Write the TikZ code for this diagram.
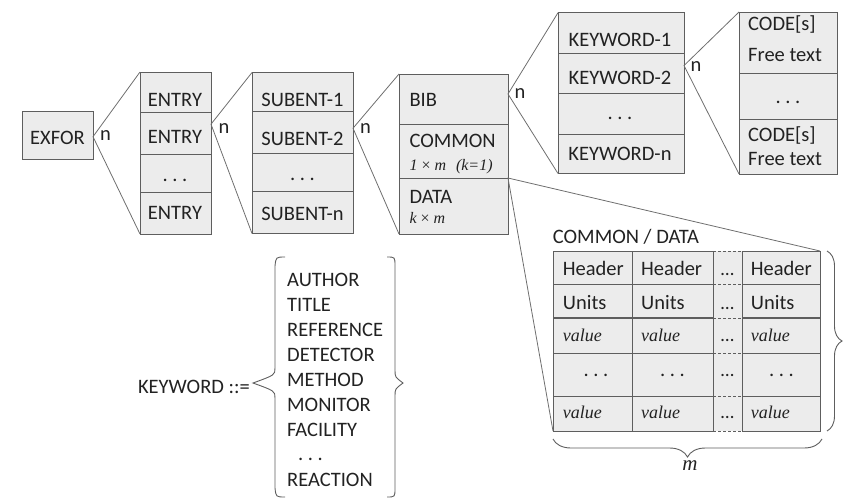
\documentclass[tikz,border=0pt]{standalone}
\usepackage{fontspec}
\setmainfont{Carlito}
\newfontfamily\seriffam{Liberation Serif}
\usetikzlibrary{calc,decorations.pathreplacing}
\definecolor{cellfill}{HTML}{ECECEC}
\definecolor{celledge}{HTML}{5E5E5E}
\definecolor{connline}{HTML}{6E6E6E}
\definecolor{inktext}{HTML}{222222}
\newcommand\mkcell[6][cellbox]{%
  \pgfmathsetmacro\mkcw{#5-#3}%
  \pgfmathsetmacro\mkch{#6-#4}%
  \node[#1, minimum width=\mkcw pt, minimum height=\mkch pt] (#2) at ({(#3+#5)/2},{(#4+#6)/2}) {};}
\newcommand\spdots{.\hspace{4.5pt}.\hspace{4.5pt}.}
\begin{document}
\begin{tikzpicture}[x=1pt,y=-1pt,
  cellbox/.style={draw=celledge, fill=cellfill, line width=0.9pt, inner sep=0pt, outer sep=0pt},
  dashcell/.style={fill=cellfill, inner sep=0pt, outer sep=0pt},
  dashline/.style={draw=celledge, line width=0.9pt, dash pattern=on 3pt off 2pt},
  txt/.style={inner sep=0pt, text=inktext, font=\fontsize{20.5}{25}\selectfont},
  itxt/.style={inner sep=0pt, text=inktext, font=\fontsize{16}{19}\selectfont\seriffam\itshape},
  vtxt/.style={inner sep=0pt, text=inktext, font=\fontsize{18}{22}\selectfont\seriffam\itshape},
  conn/.style={draw=connline, line width=0.8pt},
  brc/.style={draw=celledge, line width=0.9pt, decorate},
]
\useasboundingbox (0,0) rectangle (849,498);

% ---- EXFOR
\mkcell{exfor}{22}{111}{93}{159}
\node[txt, anchor=base] (exfort) at (57.5,144) {EXFOR};

% ---- ENTRY column
\mkcell{e1}{140}{72}{211}{112}
\mkcell{e2}{140}{112}{211}{154}
\mkcell{e3}{140}{154}{211}{192}
\mkcell{e4}{140}{192}{211}{234}
\node[txt, anchor=base] (e1t) at (175,106) {ENTRY};
\node[txt, anchor=base] (e2t) at (175,143) {ENTRY};
\node[txt, anchor=base] (e3t) at (175,181) {\spdots};
\node[txt, anchor=base] (e4t) at (175,219.5) {ENTRY};

% ---- SUBENT column
\mkcell{s1}{252}{72.5}{353}{111}
\mkcell{s2}{252}{111}{353}{153}
\mkcell{s3}{252}{153}{353}{191.5}
\mkcell{s4}{252}{191.5}{353}{233.5}
\node[txt, anchor=base] (s1t) at (302.5,106.5) {SUBENT-1};
\node[txt, anchor=base] (s2t) at (302.5,145) {SUBENT-2};
\node[txt, anchor=base] (s3t) at (302.5,180) {\spdots};
\node[txt, anchor=base] (s4t) at (302.5,220) {SUBENT-n};

% ---- BIB / COMMON / DATA column
\mkcell{b1}{399}{74}{508}{124}
\mkcell{b2}{399}{124}{508}{178}
\mkcell{b3}{399}{178}{508}{234}
\node[txt, anchor=base west] (b1t) at (409.3,106.5) {BIB};
\node[txt, anchor=base west] (b2t) at (409.3,147.5) {COMMON};
\node[itxt, anchor=base west] (b2u) at (409.3,170.5) {1 {\upshape ×} m\hspace{10pt}(k=1)};
\node[txt, anchor=base west] (b3t) at (409.3,203) {DATA};
\node[itxt, anchor=base west] (b3u) at (409.3,223) {k {\upshape ×} m};

% ---- KEYWORD column
\mkcell{k1}{558}{12.7}{684}{53}
\mkcell{k2}{558}{53}{684}{93.5}
\mkcell{k3}{558}{93.5}{684}{134}
\mkcell{k4}{558}{134}{684}{173.5}
\node[txt, anchor=base] (k1t) at (620,46.5) {KEYWORD-1};
\node[txt, anchor=base] (k2t) at (620,84.5) {KEYWORD-2};
\node[txt, anchor=base] (k3t) at (620,119.5) {\spdots};
\node[txt, anchor=base] (k4t) at (620,160) {KEYWORD-n};

% ---- CODE column
\mkcell{c1}{739}{12}{837}{73}
\mkcell{c2}{739}{73}{837}{119}
\mkcell{c3}{739}{119}{837}{174}
\node[txt, anchor=base west] (c1t) at (748,30.5) {CODE[s]};
\node[txt, anchor=base west] (c1u) at (748,61.5) {Free text};
\node[txt, anchor=base] (c2t) at (788,103) {\spdots};
\node[txt, anchor=base west] (c3t) at (748,141) {CODE[s]};
\node[txt, anchor=base west] (c3u) at (748,165.5) {Free text};

% ---- connectors of the hierarchy
\coordinate (a1) at ($(exfor.north east)!0.535!(exfor.south east)$);
\coordinate (a2) at ($(e2.north east)!0.29!(e2.south east)$);
\coordinate (a3) at ($(s2.north east)!0.41!(s2.south east)$);
\coordinate (a4) at ($(b1.north east)!0.40!(b1.south east)$);
\coordinate (a5) at ($(k2.north east)!0.31!(k2.south east)$);
\draw[conn] (e1.north west) -- (a1) -- (e4.south west);
\draw[conn] (s1.north west) -- (a2) -- (s4.south west);
\draw[conn] (b1.north west) -- (a3) -- (b3.south west);
\draw[conn] (k1.north west) -- (a4) -- (k4.south west);
\draw[conn] (c1.north west) -- (a5) -- (c3.south west);
\node[txt] (n1) at (105.5,136) {n};
\node[txt] (n2) at (224,128.5) {n};
\node[txt] (n3) at (365.5,129) {n};
\node[txt] (n4) at (520,93.5) {n};
\node[txt] (n5) at (696,67) {n};

% ---- COMMON / DATA table
\node[txt, anchor=base west] (tabtitle) at (552.7,243.3) {COMMON / DATA};
\foreach \r/\ya/\yb in {1/251/284.3, 2/284.3/318.3, 3/318.3/353.3, 4/353.3/396, 5/396/431}{
  \mkcell[dashcell]{t\r3}{713}{\ya}{742}{\yb}
}
\foreach \r/\ya/\yb in {1/251/284.3, 2/284.3/318.3, 3/318.3/353.3, 4/353.3/396, 5/396/431}{
  \mkcell{t\r1}{553}{\ya}{632}{\yb}
  \mkcell{t\r2}{632}{\ya}{713}{\yb}
  \mkcell{t\r4}{742}{\ya}{820}{\yb}
  \draw[dashline] (t\r3.north west) -- (t\r3.north east);
}
\draw[dashline] (t53.south west) -- (t53.south east);
\draw[draw=celledge, line width=1.8pt] (t31.north west) -- (t32.north east);
\draw[draw=celledge, line width=1.8pt] (t34.north west) -- (t34.north east);

\foreach \r/\yy in {1/275, 2/309, 3/341.7, 4/376, 5/418.3}{
  \node[txt, font=\fontsize{19}{22}\selectfont, anchor=base] (t\r3t) at (727.5,\yy) {…};
}
\node[txt, anchor=base west] (t11t) at (562.7,275) {Header};
\node[txt, anchor=base west] (t12t) at (641,275) {Header};
\node[txt, anchor=base west] (t14t) at (750.7,275) {Header};
\node[txt, anchor=base west] (t21t) at (562.7,309) {Units};
\node[txt, anchor=base west] (t22t) at (641,309) {Units};
\node[txt, anchor=base west] (t24t) at (750.7,309) {Units};
\node[vtxt, anchor=base west] (t31t) at (562.7,341.7) {value};
\node[vtxt, anchor=base west] (t32t) at (641,341.7) {value};
\node[vtxt, anchor=base west] (t34t) at (750.7,341.7) {value};
\node[txt, anchor=base] (t41t) at (596,376.5) {\spdots};
\node[txt, anchor=base] (t42t) at (672.5,376.5) {\spdots};
\node[txt, anchor=base] (t44t) at (781.5,376.5) {\spdots};
\node[vtxt, anchor=base west] (t51t) at (562.7,418.3) {value};
\node[vtxt, anchor=base west] (t52t) at (641,418.3) {value};
\node[vtxt, anchor=base west] (t54t) at (750.7,418.3) {value};

% lines from COMMON/DATA boundary to the table
\draw[conn] (t14.north east) -- (b2.south east) -- (t51.south west);

% braces of the table
\draw[brc, decoration={brace, amplitude=15pt}] (827,251) -- (827,431);
\draw[brc, decoration={brace, amplitude=18pt}] (822,439) -- (553,439);
\node[inner sep=0pt, text=inktext, font=\fontsize{21}{24}\selectfont\seriffam\itshape] (mlab) at (690,466) {m};

% ---- KEYWORD definition
\node[txt, anchor=base east] (kwdef) at (250,393) {KEYWORD ::=};
\draw[draw=celledge, line width=0.9pt]
  (285,257) .. controls (276,257) .. (275,266) -- (275,368)
  .. controls (275,375) .. (253,383)
  .. controls (275,391) .. (275,398) -- (275,488)
  .. controls (276,497) .. (285,497);
\draw[draw=celledge, line width=0.9pt]
  (387,257) .. controls (395,257) .. (395,266) -- (395,370)
  .. controls (395,377) .. (403,383)
  .. controls (395,389) .. (395,396) -- (395,488)
  .. controls (395,497) .. (387,497);
\foreach \i/\w in {0/AUTHOR, 1/TITLE, 2/REFERENCE, 3/DETECTOR, 4/METHOD, 5/MONITOR, 6/FACILITY, 8/REACTION}{
  \node[txt, anchor=base west] (kw\i) at (287,{286+25*\i}) {\w};
}
\node[txt, anchor=base west] (kw7) at (298,460) {\spdots};
\end{tikzpicture}
\end{document}
